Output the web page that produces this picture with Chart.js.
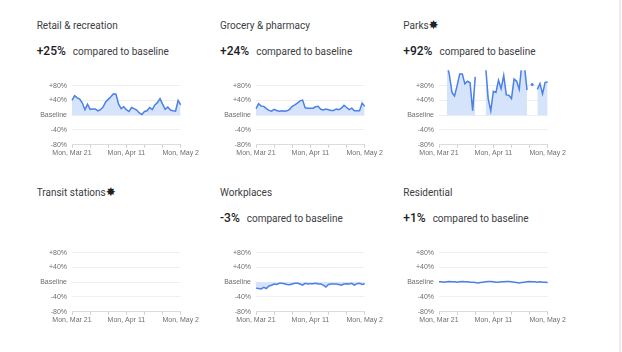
<!DOCTYPE html>
<html>
<head>
<meta charset="utf-8">
<script src="https://cdn.jsdelivr.net/npm/chart.js@4.4.0/dist/chart.umd.min.js"></script>
<style>
  body { margin: 0; background: #fff; width: 622px; height: 352px; overflow: hidden; position: relative; font-family: Roboto, Arial, sans-serif; }
  .title { position: absolute; font-size: 10px; line-height: 12px; color: #3c4043; white-space: nowrap; }
  .title .star { font-family: "DejaVu Sans"; font-size: 12px; line-height: 10px; color: #202124; margin-left: 0px; }
  .value { position: absolute; font-size: 10px; line-height: 14px; color: #3c4043; white-space: nowrap; }
  .value b { font-size: 12px; font-weight: 500; color: #202124; margin-right: 7px; }
  canvas { position: absolute; }
  .edge { position: absolute; left: 619px; top: 0; width: 2px; height: 352px; background: #ececec; }
</style>
</head>
<body>
<div class="edge"></div>
<script>
// daily values, Mon Mar 21 .. Mon May 2 (43 days), % change from baseline
const retail = [40, 53, 47, 44, 33, 15, 30, 16, 17, 17, 12, 15, 22, 36, 43, 50, 58, 57, 30, 18, 23, 15, 10, 21, 18, 14, 6, 2, 10, 12, 21, 15, 28, 34, 45, 30, 16, 22, 14, 12, 11, 40, 28];
const grocery = [18, 31, 25, 24, 18, 13, 11, 16, 13, 11, 12, 11, 12, 16, 24, 28, 33, 39, 41, 20, 19, 19, 19, 23, 24, 16, 14, 17, 15, 13, 13, 17, 15, 19, 27, 21, 15, 19, 12, 12, 12, 33, 24];
const parks = [null, null, null, 140, 110, 62, 52, 80, 112, 112, 85, 92, 88, 12, 104, null, null, null, 135, 45, 12, 65, 62, 95, 72, 108, 55, 54, 45, 98, 92, 70, 140, 135, 68, null, 83, null, 70, 86, 58, 89, 90];
const transit = [];
const workplaces = [-16, -17, -18, -14, -17, -10, -8, -5, -6, -3, -3, -4, -6, -7, -5, -3, -3, -5, -8, -3, -5, -4, -4, -3, -5, -5, -8, -13, -6, -5, -5, -5, -6, -8, -5, -4, -5, -3, -8, -4, -3, -6, -4];
const residential = [1, 1, 0, 1, 2, 1, 1, 0, 1, 2, 1, 1, 0, 0, -1, -2, -1, 0, 1, 2, 2, 1, 0, 0, 1, 1, 2, 2, 1, 0, -1, -2, -1, 0, 1, 2, 1, 1, 0, 1, 0, 0, -1];

const places = ['Retail & recreation', 'Grocery & pharmacy', 'Parks', 'Transit stations', 'Workplaces', 'Residential'];
const headline = ['+25%', '+24%', '+92%', null, '-3%', '+1%'];
const starred = [false, false, true, true, false, false];
const series = [retail, grocery, parks, transit, workplaces, residential];

const xTickLabels = ['Mon, Mar 21', 'Mon, Apr 11', 'Mon, May 2'];
const yTickValues = [-80, -40, 0, 40, 80];
const yTickLabels = ['-80%', '-40%', 'Baseline', '+40%', '+80%'];

const days = [];
const first = new Date(2022, 2, 21);
for (let i = 0; i < 43; i++) {
	const d = new Date(first);
	d.setDate(first.getDate() + i);
	days.push(d.toDateString());
}

const colTitle = [36.7, 220, 403.3];
const colArea = [72, 255.5, 439.3];
const rowStep = 167.4;
const lineColor = '#4a80e8';
const fillColor = '#d6e4fb';

const isolated = (data, i) => data[i] !== null && data[i - 1] == null && data[i + 1] == null;

places.forEach((name, k) => {
	const col = k % 3, row = Math.floor(k / 3);

	const t = document.createElement('div');
	t.className = 'title';
	t.style.left = colTitle[col] + 'px';
	t.style.top = (20 + row * rowStep) + 'px';
	t.innerHTML = name.replace('&', '&amp;') + (starred[k] ? '<span class="star">✸</span>' : '');
	document.body.appendChild(t);

	if (headline[k]) {
		const v = document.createElement('div');
		v.className = 'value';
		v.style.left = colTitle[col] + 'px';
		v.style.top = (44 + row * rowStep) + 'px';
		v.innerHTML = '<b>' + headline[k] + '</b>compared to baseline';
		document.body.appendChild(v);
	}

	const canvas = document.createElement('canvas');
	canvas.width = 170;
	canvas.height = 105;
	canvas.style.left = (colArea[col] - 42) + 'px';
	canvas.style.top = (60.5 + row * rowStep) + 'px';
	document.body.appendChild(canvas);

	const data = series[k];
	new Chart(canvas, {
		type: 'line',
		data: {
			labels: days,
			datasets: data.length ? [{
				data: data,
				borderColor: lineColor,
				borderWidth: 1.5,
				backgroundColor: fillColor,
				fill: 'origin',
				tension: 0,
				spanGaps: false,
				pointRadius: ctx => isolated(data, ctx.dataIndex) ? 1.5 : 0,
				pointBackgroundColor: lineColor,
				pointBorderWidth: 0
			}] : []
		},
		options: {
			responsive: false,
			animation: false,
			events: [],
			layout: { padding: { top: 8, right: 8, left: 0, bottom: 0 } },
			plugins: { legend: { display: false }, tooltip: { enabled: false } },
			scales: {
				x: {
					afterFit: s => { s.height = 21.25; },
					grid: { drawOnChartArea: false, drawTicks: true, tickLength: 3, color: '#d0d0d0' },
					border: { display: true, color: '#dcdcdc' },
					ticks: {
						autoSkip: false,
						maxRotation: 0,
						padding: 1,
						color: '#6b6f73',
						font: { family: 'Arial', size: 7 },
						callback: (v, i) => i % 21 === 0 ? xTickLabels[i / 21] : (i % 7 === 0 ? '' : null)
					}
				},
				y: {
					min: -80,
					max: 122,
					afterFit: s => { s.width = 42; },
					afterBuildTicks: s => { s.ticks = yTickValues.map(v => ({ value: v })); },
					grid: { drawTicks: false, color: '#efefef' },
					border: { display: false },
					ticks: {
						padding: 5,
						color: '#6b6f73',
						font: { family: 'Arial', size: 7 },
						callback: v => yTickLabels[yTickValues.indexOf(v)]
					}
				}
			}
		}
	});
});
</script>
</body>
</html>
